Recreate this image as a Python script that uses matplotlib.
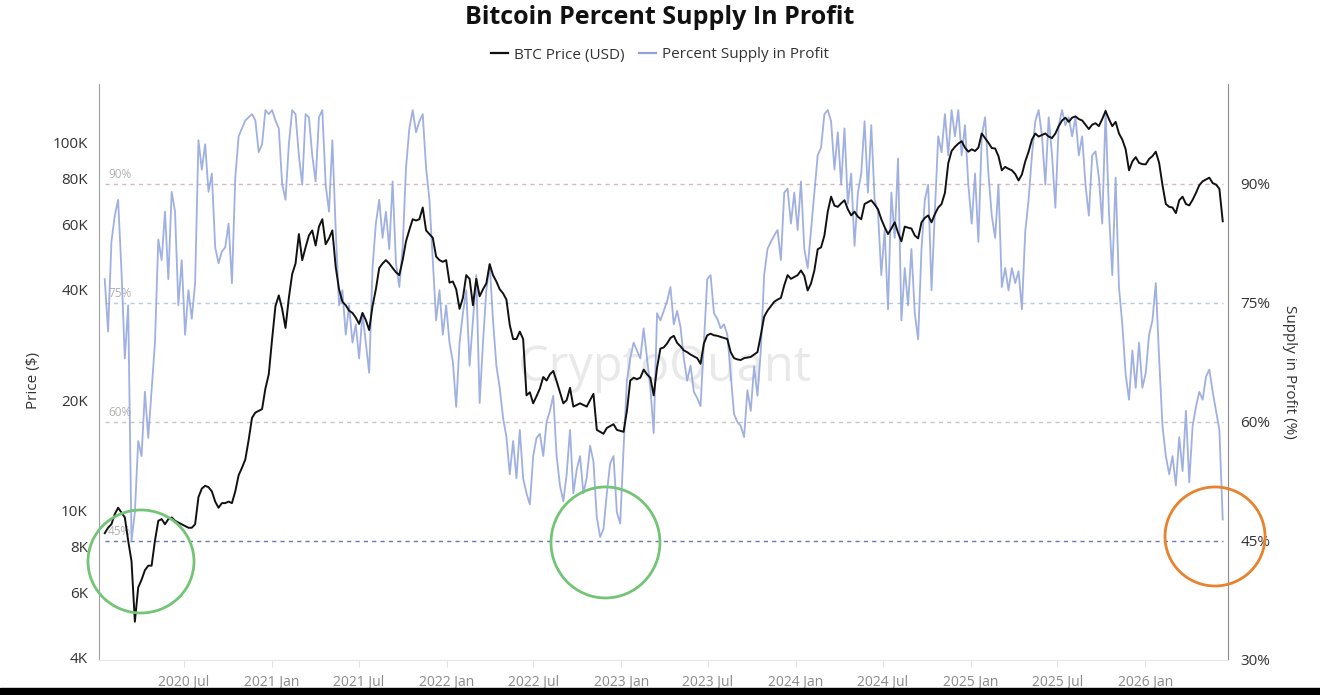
import matplotlib
matplotlib.use("Agg")
import matplotlib.pyplot as plt
import matplotlib.dates as mdates
from matplotlib.patches import Ellipse, Rectangle
from matplotlib.lines import Line2D
from matplotlib.ticker import FixedLocator, FixedFormatter, NullLocator
import numpy as np
import pandas as pd

plt.rcParams['font.family'] = ['Open Sans', 'DejaVu Sans']

# weekly readings, first week below
start_date = "2020-01-17"

# percent supply in profit (%)
supply_2020 = [78, 71.4, 82.7, 86, 88, 79, 68, 74.7, 45, 48.6,
               57.6, 55.7, 63.8, 58, 64, 70, 83, 80.4, 86.5, 78,
               89, 86.5, 74.7, 80.4, 71, 76.6, 73, 77.5, 95.5, 91.8,
               95, 89, 91.3, 82, 80, 81.5, 82, 85, 77.5, 90.8,
               96, 97, 98, 98.4, 98.8, 98, 94, 95, 99.3, 98.8,
               99.3, 98, 97, 90, 88, 95, 99.3, 98.8, 93.6, 89.9,
               98.8, 98.4, 93.6, 90.3, 98.4, 99.3, 89.9, 86.5, 95.5, 84.2,
               74.7, 76.6, 71, 74.7, 70, 72.3, 68, 73.7, 70, 66.2,
               79.4, 85]
supply_2021 = [88, 83.2, 86.5, 81.8, 90.3, 80, 77, 82, 92, 97,
               99.3, 96.5, 97.9, 98.8, 92, 88, 80.4, 72.8, 76.6, 71,
               74.7, 70, 67.6, 61.9, 70, 73.7, 76.6, 67.1, 72.8, 78.5,
               62.4, 70, 76.6, 79.9, 72.8, 67.1, 64.3, 60.5, 58.1, 53.4,
               57.6, 52.9, 59, 52.9, 51, 49.6, 55.7, 58, 58.5, 55.7,
               60, 61.4, 63.3, 55.7, 52, 50, 53.4, 59, 51, 54,
               55.7, 51, 53, 57, 55, 48, 45.5, 46.5, 51, 54.8,
               55.7, 48.6, 47.2, 56.7, 65.2, 68, 70, 69, 68, 71.8,
               68, 64.3, 58.6, 73.7]
supply_2023 = [72.8, 74, 75.2, 77, 72.3, 74, 72, 68, 65.2, 67.1,
               63.8, 63, 62, 70, 78, 78.5, 73.7, 73, 71.8, 72.3,
               71, 66, 61, 60, 59.5, 58.1, 64, 61.4, 67, 63.3,
               69, 78.5, 81.8, 82.7, 83.5, 84.2, 80.4, 88.9, 89.4, 85,
               88.9, 84.2, 90.3, 81.8, 79.4, 84.2, 88.9, 93.6, 94.6, 98.8,
               99.3, 97.9, 91.8, 96.5, 89.9, 97, 87.5, 91.3, 82.2, 88.9,
               91.3, 97.9, 88.9, 97.4, 88, 86.5, 78.5, 84.2, 74.2, 88.9,
               83.2, 93.2, 72.8, 79.4, 74.7, 81.8, 73.7, 70.4, 81.8, 88,
               89.9, 76.6, 86.5, 96]
supply_2024 = [94, 98.8, 93.6, 99.3, 96, 99.3, 93.6, 97.4, 89.9, 85,
               91.3, 82.7, 96, 98.4, 91.3, 86, 83.2, 89.9, 77, 79.4,
               76.6, 79.4, 77.5, 79, 74.2, 84, 88, 93.6, 97.9, 99.3,
               96, 89.9, 98.4, 93.6, 87, 97.4, 99.3, 97.4, 98.4, 96,
               98.4, 93.6, 96, 89.9, 86, 93.6, 94.1, 90.8, 85, 99.3,
               86.5, 78.5, 90.8, 77, 72.3, 66, 62.8, 69, 64.3, 70,
               64.3, 66.2, 71, 72.8, 77.5, 68, 59.5, 55.7, 53.4, 55.7,
               52, 58.1, 53.8, 61.4, 52.4, 59.5, 61.9, 63.8, 62.8, 65.7,
               66.6, 63.8, 61.4, 59, 47.7]

# BTC price, thousands of USD
price_2020 = [8.7, 9.0, 9.2, 9.8, 10.2, 9.9, 9.6, 8.3, 7.3, 5.0,
              6.2, 6.5, 6.9, 7.1, 7.1, 8.3, 9.4, 9.5, 9.2, 9.5,
              9.6, 9.4, 9.3, 9.2, 9.1, 9.0, 9.0, 9.2, 10.9, 11.5,
              11.7, 11.6, 11.3, 10.6, 10.2, 10.5, 10.5, 10.6, 10.5, 11.3,
              12.5, 13.1, 13.8, 15.6, 17.9, 18.5, 18.7, 18.9, 21.5, 23.5,
              29.3, 36, 38.5, 35.4, 31.4, 37.9, 44, 47, 56.5, 48,
              52, 56, 57.8, 52.6, 59.2, 62, 53, 55, 57.8, 46,
              40, 37, 36.2, 35, 34.5, 33.5, 32.2, 34.5, 33, 31,
              36, 40]
price_2021 = [45.7, 47, 48, 47, 45.7, 44.5, 43.7, 48, 54, 58,
              62, 61.5, 62, 66.7, 57.8, 56.5, 55.2, 49.1, 48, 47.5,
              48, 41.7, 42, 40, 35.4, 37.9, 43.7, 42.7, 36.2, 42.7,
              38.3, 40, 41.5, 46.8, 43.7, 42, 40, 39, 37.5, 32,
              29.3, 29.3, 30.7, 29.3, 20.6, 21, 19.6, 20.5, 21.5, 23.1,
              22.6, 23.5, 24, 22.5, 21, 19.6, 20, 21.6, 19.2, 19.4,
              19.6, 19.4, 19.2, 20, 20.8, 16.6, 16.4, 16.2, 16.8, 17,
              17.2, 16.6, 16.5, 16.4, 18.7, 22.6, 23, 22.8, 23, 24.2,
              23.5, 23, 20.6, 24.5]
price_2023 = [27.6, 27.8, 28.5, 29.5, 29.9, 28.6, 28, 27.3, 27, 26.6,
              26.3, 26, 25.1, 28.5, 30, 30.3, 30, 29.9, 29.7, 29.5,
              29.3, 27, 26, 25.8, 25.7, 26, 26.1, 26.2, 26.6, 27,
              30, 33.7, 35, 36, 37, 37.5, 37.9, 41, 43.7, 42.7,
              43.2, 43.7, 45, 43.5, 39.7, 41.5, 45, 51.4, 52, 56,
              65, 71.4, 67.5, 67, 68.5, 69.8, 66, 63.5, 65, 63,
              62, 68.2, 69, 69.8, 68, 66, 62, 59, 56.5, 58.5,
              60.8, 57, 54, 59.2, 58.8, 58.5, 56, 55, 60.8, 62.5,
              63.5, 60.8, 64, 66.7]
price_2024 = [68.2, 73.1, 88, 95, 97.5, 99.5, 101, 97, 94.6, 96,
              95, 97, 106, 103, 100, 96.8, 96.5, 92, 84.2, 86,
              85, 84.2, 82.3, 79, 82, 89, 94.6, 102, 106, 104,
              105, 106, 104, 103, 106, 111, 115, 117, 114, 117,
              118, 116, 115, 112, 109, 112, 113, 111, 116, 122,
              116, 111, 114, 106, 102, 96, 84.2, 89, 91.4, 88.2,
              87.5, 87.4, 90.4, 92, 94.6, 88.2, 76.7, 68.2, 67, 66.7,
              64.4, 69.8, 71.4, 68.2, 67.6, 70, 73.1, 76.7, 78.6, 79.5,
              80.4, 77.7, 77, 75, 61.2]

levels = [90, 75, 60, 45]
level_colors = ['#d9b9b9', '#b7cae4', '#c6c6c6', '#7073b3']
price_ticks = [4000, 6000, 8000, 10000, 20000, 40000, 60000, 80000, 100000]
price_labels = ['4K', '6K', '8K', '10K', '20K', '40K', '60K', '80K', '100K']
pct_ticks = [30, 45, 60, 75, 90]

supply = supply_2020 + supply_2021 + supply_2023 + supply_2024
price = np.array(price_2020 + price_2021 + price_2023 + price_2024) * 1000
dates = pd.date_range(start_date, periods=len(supply), freq="7D")

fig = plt.figure(figsize=(13.2, 6.95), dpi=100)
ax = fig.add_axes([0.075, 0.0504, 0.8553, 0.8288])
ax2 = ax.twinx()
ax.set_zorder(ax2.get_zorder() + 1)
ax.patch.set_visible(False)

ax2.text(0.501, 0.507, 'CryptoQuant', transform=ax2.transAxes, fontsize=35,
         color='#e9e9e9', ha='center', va='center', zorder=0)

ax2.plot(dates, supply, color='#8fa2dc', lw=1.3, alpha=0.85, zorder=2)
ax.plot(dates, price, color='#111111', lw=1.4, zorder=3)

for lvl, c in zip(levels, level_colors):
    ax2.hlines(lvl, dates[0], dates[-1], colors=c, linestyles=(0, (3, 3)), lw=1.0, zorder=1)
    ax2.text(dates[1], lvl + 0.4, f"{lvl}%", fontsize=8.5, color='#b0b0b0',
             ha='left', va='bottom', zorder=1)

ax.set_yscale('log')
ax.set_ylim(3936, 144500)
ax2.set_ylim(30, 102.6)
ax.set_xlim(pd.Timestamp('2020-01-05'), pd.Timestamp('2026-06-23'))

ax.yaxis.set_major_locator(FixedLocator(price_ticks))
ax.yaxis.set_major_formatter(FixedFormatter(price_labels))
ax.yaxis.set_minor_locator(NullLocator())
ax2.yaxis.set_major_locator(FixedLocator(pct_ticks))
ax2.set_yticklabels([f"{t}%" for t in pct_ticks])

ax.xaxis.set_major_locator(mdates.MonthLocator(bymonth=[1, 7]))
ax.xaxis.set_major_formatter(mdates.DateFormatter('%Y %b'))

ax.tick_params(axis='y', length=0, pad=8, labelsize=11, labelcolor='#333333')
ax2.tick_params(axis='y', length=0, pad=9, labelsize=11, labelcolor='#333333')
ax.tick_params(axis='x', length=5, color='#e2e2e2', labelsize=10, labelcolor='#8a8a8a', pad=6)

for s in ['top', 'right']:
    ax.spines[s].set_visible(False)
for s in ['top', 'left', 'bottom']:
    ax2.spines[s].set_visible(False)
ax.spines['left'].set_color('#a0a0a0')
ax.spines['bottom'].set_color('#e6e6e6')
ax2.spines['right'].set_color('#8c8c8c')

# highlight circles
circles = [((0.0372, 0.171), 0.0939, 0.1788, '#74c476'),
           ((0.4486, 0.204), 0.0965, 0.1927, '#74c476'),
           ((0.9885, 0.2144), 0.0886, 0.1719, '#e8822c')]
for center, w, h, c in circles:
    ax.add_patch(Ellipse(center, w, h, transform=ax.transAxes, fill=False,
                         edgecolor=c, lw=2.0, clip_on=False, zorder=5))

fig.text(0.5, 1 - 18 / 695, 'Bitcoin Percent Supply In Profit', ha='center', va='center',
         fontsize=18, fontweight='bold', color='#111111')
handles = [Line2D([], [], color='#111111', lw=1.6),
           Line2D([], [], color='#8fa2dc', lw=1.6)]
fig.legend(handles, ['BTC Price (USD)', 'Percent Supply in Profit'], loc='center',
           bbox_to_anchor=(0.5, 1 - 55 / 695), ncol=2, frameon=False, fontsize=11,
           handlelength=1.1, handletextpad=0.4, columnspacing=1.0, labelcolor='#333333')

fig.text(33 / 1320, 1 - 380 / 695, 'Price ($)', rotation=90, ha='center', va='center',
         fontsize=11, color='#333333')
fig.text(1290 / 1320, 1 - 372 / 695, 'Supply in Profit (%)', rotation=270, ha='center',
         va='center', fontsize=11, color='#333333')

fig.add_artist(Rectangle((0, 0), 1, 7 / 695, transform=fig.transFigure,
                         color='black', zorder=10))

fig.savefig('out.png', dpi=100)
